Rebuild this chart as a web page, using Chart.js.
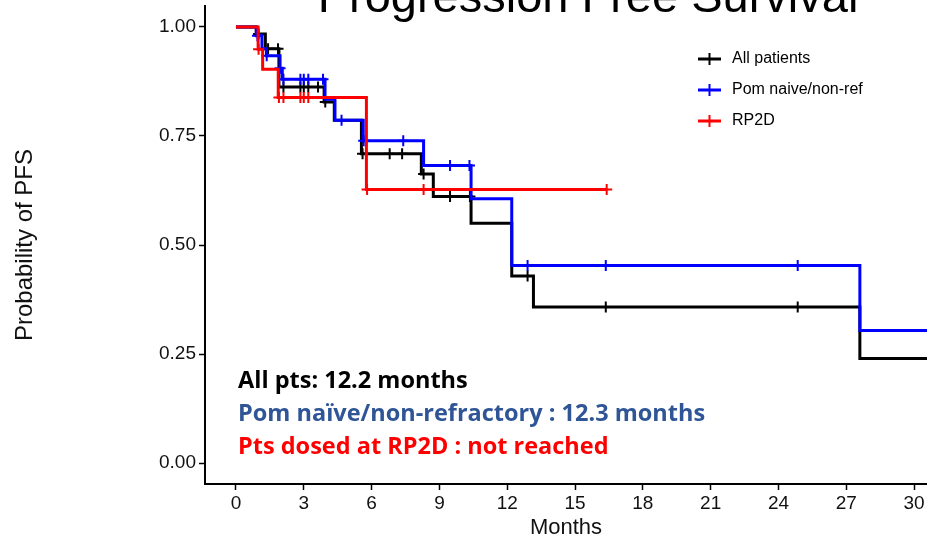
<!DOCTYPE html>
<html>
<head>
<meta charset="utf-8">
<title>Progression Free Survival</title>
<script src="https://cdn.jsdelivr.net/npm/chart.js@4.4.1/dist/chart.umd.min.js"></script>
<style>
    html, body { margin: 0; padding: 0; background: #ffffff; }
</style>
</head>
<body>
<canvas id="km" width="927" height="539"></canvas>
<script>
// Kaplan-Meier steps: month of each step and survival right after it
const allTimes = [0, 0.9, 1.3, 1.9, 3.9, 4.35, 5.55, 8.2, 8.73, 10.4, 12.2, 13.16, 27.6, 31];
const allSurv = [1, 0.984, 0.95, 0.862, 0.828, 0.786, 0.709, 0.663, 0.611, 0.55, 0.429, 0.358, 0.24, 0.24];
const allCensored = [1.0, 1.42, 1.86, 2.1, 2.85, 3.0, 3.2, 3.63, 3.95, 5.6, 6.8, 7.35, 8.3, 9.47, 10.35, 12.9, 16.36, 24.85];

const pomTimes = [0, 0.9, 1.15, 1.35, 1.95, 2.05, 3.94, 4.38, 5.63, 8.3, 10.4, 12.2, 27.6, 31];
const pomSurv = [1, 0.98, 0.95, 0.934, 0.905, 0.88, 0.834, 0.786, 0.739, 0.682, 0.606, 0.453, 0.304, 0.304];
const pomCensored = [0.95, 1.36, 1.95, 2.1, 2.85, 3.0, 3.2, 3.85, 4.67, 5.65, 7.4, 9.47, 10.33, 12.9, 16.36, 24.85];

const rp2dTimes = [0, 0.98, 1.18, 1.87, 5.77, 16.4];
const rp2dSurv = [1, 0.949, 0.903, 0.838, 0.627, 0.627];
const rp2dCensored = [1.0, 1.9, 2.1, 2.85, 3.0, 3.2, 5.8, 8.3, 16.4];

const seriesNames = ['All patients', 'Pom naive/non-ref', 'RP2D'];
const seriesColors = ['#000000', '#0000ff', '#ff0000'];

const xTicks = [0, 3, 6, 9, 12, 15, 18, 21, 24, 27, 30];
const yTicks = [0, 0.25, 0.5, 0.75, 1];

const medianNotes = ['All pts: 12.2 months', 'Pom naïve/non-refractory : 12.3 months', 'Pts dosed at RP2D : not reached'];
const noteColors = ['#000000', '#2f5597', '#ff0000'];

const chartTitle = 'Progression Free Survival';

function survivalAt(times, surv, t)
{
    let s = surv[0];
    for (let i = 0; i < times.length; i++)
    {
        if (times[i] <= t) s = surv[i];
    }
    return s;
}

function stepDataset(name, color, times, surv, order)
{
    return {
        type: 'line',
        label: name,
        data: times.map((t, i) => ({x: t, y: surv[i]})),
        borderColor: color,
        borderWidth: 3,
        stepped: 'before', // horizontal first, then the drop
        pointRadius: 0,
        fill: false,
        order: order
    };
}

function censorDataset(name, color, times, surv, censored, order)
{
    return {
        type: 'scatter',
        label: name + ' censored',
        data: censored.map(t => ({x: t, y: survivalAt(times, surv, t)})),
        borderColor: color,
        backgroundColor: color,
        pointStyle: 'cross',
        pointRadius: 5.5,
        borderWidth: 2,
        order: order
    };
}

// big title, partly cut by the top edge
const titlePlugin =
{
    id: 'cutTitle',
    afterDraw(chart)
    {
        const ctx = chart.ctx;
        ctx.save();
        ctx.fillStyle = '#000000';
        ctx.font = '47px "Liberation Sans", Arial, sans-serif';
        ctx.textAlign = 'center';
        ctx.textBaseline = 'alphabetic';
        ctx.fillText(chartTitle, 588, 12);
        ctx.restore();
    }
};

// legend inside the plot, top right
const legendPlugin =
{
    id: 'kmLegend',
    afterDraw(chart)
    {
        const ctx = chart.ctx;
        ctx.save();
        ctx.font = '16px "Liberation Sans", Arial, sans-serif';
        ctx.textBaseline = 'middle';
        ctx.textAlign = 'left';
        seriesNames.forEach((name, i) =>
        {
            const y = 59 + i * 31;
            ctx.strokeStyle = seriesColors[i];
            ctx.lineWidth = 3;
            ctx.beginPath();
            ctx.moveTo(698, y);
            ctx.lineTo(721, y);
            ctx.stroke();
            ctx.lineWidth = 2;
            ctx.beginPath();
            ctx.moveTo(709.5, y - 6);
            ctx.lineTo(709.5, y + 6);
            ctx.stroke();
            ctx.fillStyle = '#000000';
            ctx.fillText(name, 732, y);
        });
        ctx.restore();
    }
};

// median PFS notes, bottom left of the plot
const notesPlugin =
{
    id: 'medianNotes',
    afterDraw(chart)
    {
        const ctx = chart.ctx;
        ctx.save();
        ctx.font = 'bold 23.5px "Open Sans", sans-serif';
        ctx.textBaseline = 'middle';
        ctx.textAlign = 'left';
        medianNotes.forEach((text, i) =>
        {
            ctx.fillStyle = noteColors[i];
            ctx.fillText(text, 238, 381 + i * 33);
        });
        ctx.restore();
    }
};

const axisFont = {family: '"Liberation Sans", Arial, sans-serif', size: 19};

new Chart(document.querySelector('#km'),
{
    type: 'scatter',
    data:
    {
        datasets:
        [
            stepDataset(seriesNames[2], seriesColors[2], rp2dTimes, rp2dSurv, 0),
            censorDataset(seriesNames[2], seriesColors[2], rp2dTimes, rp2dSurv, rp2dCensored, 0),
            stepDataset(seriesNames[1], seriesColors[1], pomTimes, pomSurv, 2),
            censorDataset(seriesNames[1], seriesColors[1], pomTimes, pomSurv, pomCensored, 2),
            stepDataset(seriesNames[0], seriesColors[0], allTimes, allSurv, 4),
            censorDataset(seriesNames[0], seriesColors[0], allTimes, allSurv, allCensored, 4)
        ]
    },
    options:
    {
        responsive: false,
        devicePixelRatio: 1,
        animation: false,
        layout: {autoPadding: false, padding: {top: 6, right: 0, bottom: 0, left: 0}},
        plugins:
        {
            legend: {display: false},
            title: {display: false},
            tooltip: {enabled: false}
        },
        scales:
        {
            x:
            {
                type: 'linear',
                min: -1.37,
                max: 30.57,
                afterBuildTicks: scale => { scale.ticks = xTicks.map(v => ({value: v})); },
                afterFit: scale =>
                {
                    scale.height = 55;
                    scale.paddingLeft = 0;
                    scale.paddingRight = 0;
                },
                ticks: {color: '#111111', font: axisFont, padding: 2, maxRotation: 0},
                grid: {drawOnChartArea: false, drawTicks: true, tickLength: 6, tickColor: '#000000', tickWidth: 1.5},
                border: {display: true, color: '#000000', width: 2},
                title: {display: true, text: 'Months', color: '#111111', font: {family: axisFont.family, size: 22, lineHeight: 1}, padding: {top: 0, bottom: 0}}
            },
            y:
            {
                type: 'linear',
                min: -0.048,
                max: 1.048,
                afterBuildTicks: scale => { scale.ticks = yTicks.map(v => ({value: v})); },
                afterFit: scale =>
                {
                    scale.width = 205;
                    scale.paddingTop = 0;
                    scale.paddingBottom = 0;
                },
                ticks: {color: '#111111', font: axisFont, padding: 3, callback: v => v.toFixed(2)},
                grid: {drawOnChartArea: false, drawTicks: true, tickLength: 6, tickColor: '#000000', tickWidth: 1.5},
                border: {display: true, color: '#000000', width: 2},
                title: {display: true, text: 'Probability of PFS', color: '#111111', font: {family: axisFont.family, size: 24}, padding: {top: 11, bottom: 0}}
            }
        }
    },
    plugins: [titlePlugin, legendPlugin, notesPlugin]
});
</script>
</body>
</html>
